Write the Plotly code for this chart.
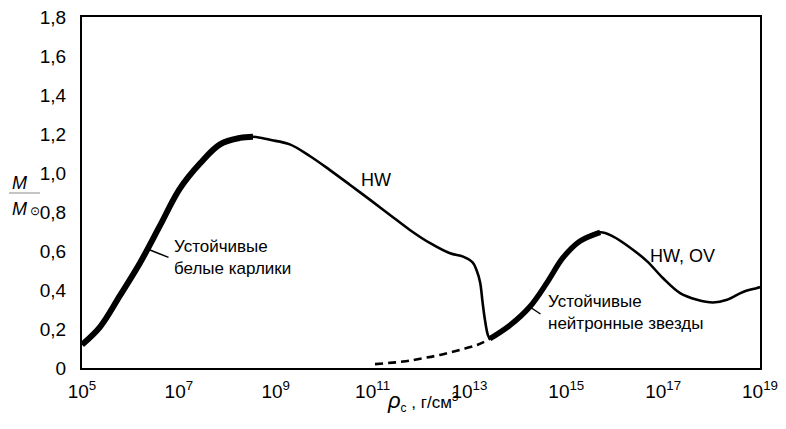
import plotly.graph_objects as go

# ---- data (log10 of central density, mass in solar masses) ----
wd_logrho = [5.0, 5.37, 5.78, 6.20, 6.61, 7.02, 7.44, 7.85, 8.26, 8.53]
wd_mass = [0.12, 0.21, 0.37, 0.54, 0.73, 0.92, 1.05, 1.147, 1.18, 1.186]

mid_logrho = [8.53, 8.88, 9.29, 9.71, 10.12, 10.53, 10.95, 11.36, 11.77, 12.19, 12.60, 12.87,
              13.07, 13.15, 13.22, 13.27, 13.32, 13.38, 13.42]
mid_mass = [1.186, 1.17, 1.147, 1.086, 1.015, 0.94, 0.862, 0.785, 0.708, 0.64, 0.588, 0.571,
            0.54, 0.50, 0.44, 0.34, 0.247, 0.17, 0.15]

ns_logrho = [13.42, 13.84, 14.25, 14.60, 14.93, 15.28, 15.70]
ns_mass = [0.15, 0.22, 0.315, 0.437, 0.565, 0.65, 0.696]

tail_logrho = [15.70, 15.96, 16.32, 16.67, 17.00, 17.35, 17.70, 18.03, 18.32, 18.65, 18.94, 19.0]
tail_mass = [0.696, 0.675, 0.617, 0.547, 0.46, 0.384, 0.35, 0.336, 0.35, 0.39, 0.41, 0.415]

dash_logrho = [11.05, 11.63, 12.04, 12.39, 12.80, 13.16, 13.42]
dash_mass = [0.02, 0.033, 0.05, 0.067, 0.093, 0.118, 0.15]

x_major_exp = [5, 7, 9, 11, 13, 15, 17, 19]
x_minor_exp = [6, 8, 10, 12, 14, 16, 18]
y_ticks = [0, 0.2, 0.4, 0.6, 0.8, 1.0, 1.2, 1.4, 1.6, 1.8]
y_ticktext = ["0", "0,2", "0,4", "0,6", "0,8", "1,0", "1,2", "1,4", "1,6", "1,8"]

def rho(lst):
    return [10 ** v for v in lst]

TXT = "Liberation Sans, Arial, sans-serif"
SPL = dict(shape="spline", smoothing=1.0)
BLK = "black"
XR = [5, 19]
YR = [0, 1.8]
major = [10 ** e for e in x_major_exp]

fig = go.Figure()
# thin HW curve: white-dwarf branch + unstable branch, then neutron-star branch + tail
fig.add_trace(go.Scatter(x=rho(wd_logrho + mid_logrho[1:]), y=wd_mass + mid_mass[1:],
                         mode="lines", line=dict(color=BLK, width=2.6, **SPL), hoverinfo="skip"))
fig.add_trace(go.Scatter(x=rho(ns_logrho + tail_logrho[1:]), y=ns_mass + tail_mass[1:],
                         mode="lines", line=dict(color=BLK, width=2.6, **SPL), hoverinfo="skip"))
# stable branches (thick)
fig.add_trace(go.Scatter(x=rho(wd_logrho), y=wd_mass, mode="lines",
                         line=dict(color=BLK, width=6, **SPL), hoverinfo="skip"))
fig.add_trace(go.Scatter(x=rho(ns_logrho), y=ns_mass, mode="lines",
                         line=dict(color=BLK, width=5.5, **SPL), hoverinfo="skip"))
# dashed branch
fig.add_trace(go.Scatter(x=rho(dash_logrho), y=dash_mass, mode="lines",
                         line=dict(color=BLK, width=2.6, dash="8px,5px", **SPL), hoverinfo="skip"))

# page body has an 8px margin, so the figure is shifted by 8px; compensate here
fig.update_layout(
    template="simple_white",
    width=778, height=421,
    margin=dict(l=74, r=26, t=9, b=61, autoexpand=False),
    paper_bgcolor="white", plot_bgcolor="white",
    showlegend=False,
    font=dict(family=TXT, color=BLK, size=19),
    xaxis=dict(type="log", range=XR, automargin=False,
               tickmode="array", tickvals=major,
               ticktext=["10<sup>%d</sup>" % e for e in x_major_exp],
               ticks="", showline=True, linecolor=BLK, linewidth=2, mirror=True,
               showgrid=False, zeroline=False, ticklabeloverflow="allow",
               ticklabelstandoff=5, tickfont=dict(family=TXT, size=19)),
    yaxis=dict(range=YR, automargin=False, tickmode="array", tickvals=y_ticks, ticktext=y_ticktext,
               ticks="", showline=True, linecolor=BLK, linewidth=2, mirror=True,
               showgrid=False, zeroline=False, ticklabeloverflow="allow",
               ticklabelstandoff=10, tickfont=dict(family=TXT, size=19)),
)

# inward tick marks on all four frame edges (pixel-length lines anchored at the tick values)
TL = dict(color=BLK, width=1.6)
for exps, length in [(x_major_exp, 18), (x_minor_exp, 11)]:
    for e in exps:
        for anchor, sign in [(YR[0], 1), (YR[1], -1)]:
            fig.add_shape(type="line", xref="x", yref="y", x0=e, x1=e,
                          ysizemode="pixel", yanchor=anchor, y0=0, y1=sign * length,
                          line=TL, layer="above")
for v in y_ticks:
    for anchor, sign in [(XR[0], 1), (XR[1], -1)]:
        fig.add_shape(type="line", xref="x", yref="y", y0=v, y1=v,
                      xsizemode="pixel", xanchor=anchor, x0=0, x1=sign * 15,
                      line=TL, layer="above")

def px2data(px, py):
    return 5 + (px - 82) / 48.43, (368 - py) / 195.0

anns = []
# curve labels
x, y = px2data(376, 180)
anns.append(dict(x=x, y=y, text="HW", showarrow=False, font=dict(family=TXT, size=18)))
x, y = px2data(683, 256)
anns.append(dict(x=x, y=y, text="HW, OV", showarrow=False, font=dict(family=TXT, size=18)))
x, y = px2data(172, 257)
anns.append(dict(x=x, y=y, text="Устойчивые<br>белые карлики", showarrow=False, align="left",
                 xanchor="left", yanchor="middle", font=dict(family=TXT, size=17)))
x, y = px2data(546, 312)
anns.append(dict(x=x, y=y, text="Устойчивые<br>нейтронные звезды", showarrow=False, align="left",
                 xanchor="left", yanchor="middle", font=dict(family=TXT, size=17)))
# leader lines
x, y = px2data(150, 250)
anns.append(dict(x=x, y=y, text="", showarrow=True, arrowhead=0, arrowwidth=1.5, arrowcolor=BLK,
                 ax=20, ay=8, standoff=0, startstandoff=0))
x, y = px2data(530, 307)
anns.append(dict(x=x, y=y, text="", showarrow=True, arrowhead=0, arrowwidth=1.5, arrowcolor=BLK,
                 ax=12, ay=8, standoff=0, startstandoff=0))

def paper(px, py):
    return (px - 82) / 678.0, (368 - py) / 351.0

# axis titles
x, y = paper(423, 417)
anns.append(dict(x=x, y=y, xref="paper", yref="paper", showarrow=False,
                 text="<i><span style='font-size:22px'>ρ</span></i><sub>c</sub> , г/см<sup>3</sup>",
                 font=dict(family=TXT, size=17)))
x, y = paper(10, 183)
anns.append(dict(x=x, y=y, xref="paper", yref="paper", showarrow=False, xanchor="left",
                 text="<i>M</i>", font=dict(family=TXT, size=18)))
x, y = paper(10, 209)
anns.append(dict(x=x, y=y, xref="paper", yref="paper", showarrow=False, xanchor="left",
                 text="<i>M</i><span style='font-size:12px'> ⊙</span>", font=dict(family=TXT, size=18)))
for a in anns:
    if "xref" not in a:
        a["xref"] = "x"
        a["yref"] = "y"
fig.update_layout(annotations=anns)

x0, y0 = paper(9, 193)
x1, _ = paper(40, 193)
fig.add_shape(type="line", xref="paper", yref="paper", x0=x0, x1=x1, y0=y0, y1=y0,
              line=dict(color=BLK, width=1.5))

fig.write_html("out.html")
